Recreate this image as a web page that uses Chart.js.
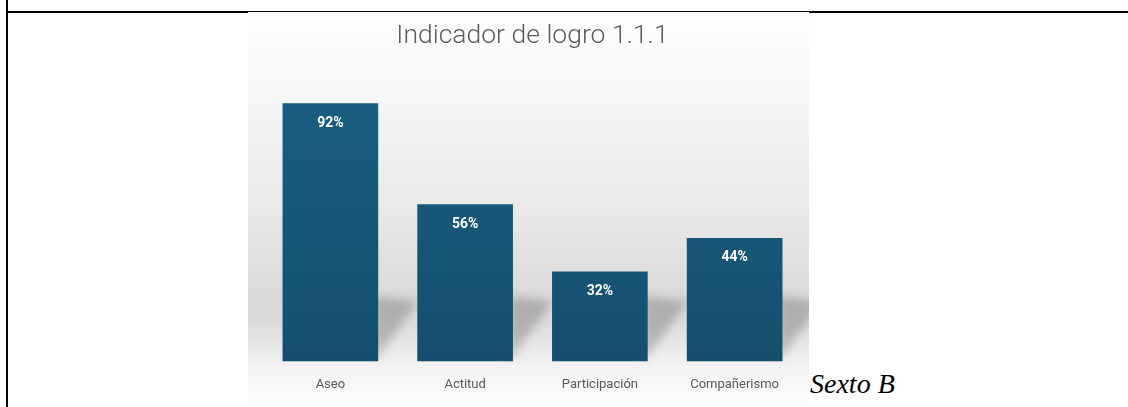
<!DOCTYPE html>
<html>
<head>
<meta charset="utf-8">
<script src="https://cdn.jsdelivr.net/npm/chart.js@4"></script>
<style>
  body { margin: 0; background: #fff; width: 1128px; height: 407px; position: relative; overflow: hidden; }
  #vline { position: absolute; left: 6px; top: 0; width: 2px; height: 407px; background: #000; }
  #hline { position: absolute; left: 6px; top: 11px; width: 1122px; height: 2px; background: #000; }
  #wrap { position: absolute; left: 248px; top: 12px; width: 561px; height: 400px; }
  #caption { position: absolute; left: 810px; top: 368px; font-family: "Liberation Serif", serif; font-style: italic; font-size: 28px; color: #000; }
</style>
</head>
<body>
<div id="vline"></div>
<div id="hline"></div>
<div id="wrap"><canvas id="grafico"></canvas></div>
<div id="caption">Sexto B</div>
<script>
const categorias = ['Aseo', 'Actitud', 'Participación', 'Compañerismo'];
const porcentajes = [92, 56, 32, 44];
const titulo = 'Indicador de logro 1.1.1';

// fondo degradado de la imagen original
const fondo = {
    id: 'fondo',
    beforeDraw(chart) {
        const ctx = chart.ctx;
        const h = 390;
        const g = ctx.createLinearGradient(0, 0, 0, h);
        g.addColorStop(0, '#fefefe');
        g.addColorStop(0.2, '#f7f7f7');
        g.addColorStop(0.5, '#e9e9e9');
        g.addColorStop(0.74, '#d9d9d9');
        g.addColorStop(0.8, '#dcdcdc');
        g.addColorStop(0.9, '#f1f1f1');
        g.addColorStop(1, '#fcfcfc');
        ctx.save();
        ctx.fillStyle = g;
        ctx.fillRect(0, 0, chart.width, h);
        ctx.restore();
    }
};

// sombras diagonales detras de cada barra
const sombras = {
    id: 'sombras',
    beforeDatasetsDraw(chart) {
        const ctx = chart.ctx;
        const meta = chart.getDatasetMeta(0);
        ctx.save();
        ctx.filter = 'blur(5px)';
        ctx.fillStyle = 'rgba(0,0,0,0.2)';
        meta.data.forEach(bar => {
            const right = bar.x + bar.width / 2;
            const base = bar.base;
            ctx.beginPath();
            ctx.moveTo(right - 4, base);
            ctx.lineTo(right - 4, base - 65);
            ctx.lineTo(right + 40, base - 60);
            ctx.closePath();
            ctx.fill();
        });
        ctx.restore();
    }
};

// etiquetas de porcentaje dentro de las barras
const etiquetas = {
    id: 'etiquetas',
    afterDatasetsDraw(chart) {
        const ctx = chart.ctx;
        const meta = chart.getDatasetMeta(0);
        ctx.save();
        ctx.fillStyle = '#ffffff';
        ctx.font = 'bold 14px Roboto';
        ctx.textAlign = 'center';
        ctx.textBaseline = 'middle';
        meta.data.forEach((bar, i) => {
            ctx.fillText(porcentajes[i] + '%', bar.x, bar.y + 20);
        });
        ctx.restore();
    }
};

const ctx = document.getElementById('grafico').getContext('2d');

new Chart(ctx, {
    type: 'bar',
    data: {
        labels: categorias,
        datasets: [
            {
                data: porcentajes,
                backgroundColor: function(c) {
                    const area = c.chart.chartArea;
                    if (!area) return '#175a7a';
                    const g = c.chart.ctx.createLinearGradient(0, area.top, 0, area.bottom);
                    g.addColorStop(0, '#195f81');
                    g.addColorStop(1, '#154f6d');
                    return g;
                },
                borderWidth: 0,
                barPercentage: 0.71,
                categoryPercentage: 1
            }
        ]
    },
    options: {
        responsive: true,
        maintainAspectRatio: false,
        animation: false,
        layout: {
            padding: { left: 15, right: 7, top: 0, bottom: 11 }
        },
        scales: {
            x: {
                grid: { display: false },
                border: { display: false },
                ticks: {
                    color: '#595959',
                    padding: 8,
                    font: { family: 'Roboto', size: 13 }
                }
            },
            y: {
                display: false,
                min: 0,
                max: 100
            }
        },
        plugins: {
            legend: { display: false },
            tooltip: { enabled: false },
            title: {
                display: true,
                text: titulo,
                color: '#5c5c5c',
                font: { family: 'Roboto', size: 26.5, weight: 300 },
                padding: { top: 8, bottom: 29 }
            }
        }
    },
    plugins: [fondo, sombras, etiquetas]
});
</script>
</body>
</html>
